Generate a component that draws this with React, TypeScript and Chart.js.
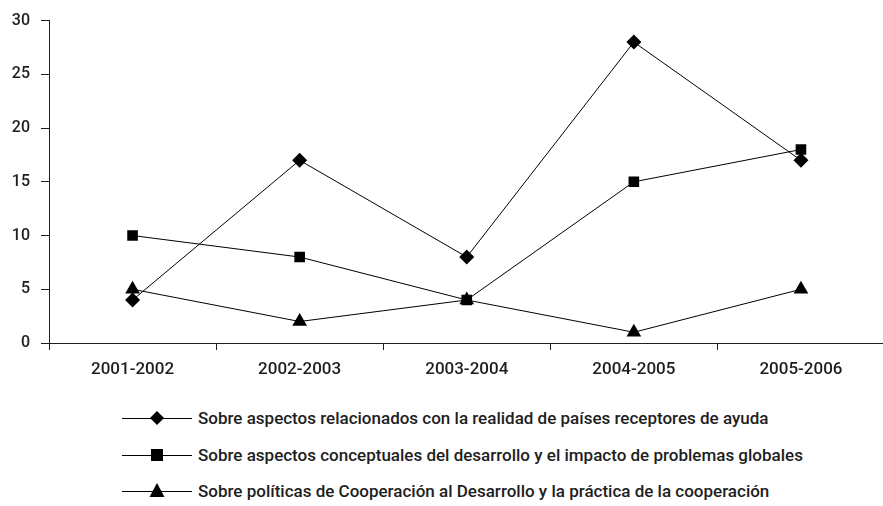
import React, { useEffect, useRef } from 'react';
import { Chart, registerables } from 'chart.js';

Chart.register(...registerables);

const categories = ['2001-2002', '2002-2003', '2003-2004', '2004-2005', '2005-2006'];
const seriesNames = [
  'Sobre aspectos relacionados con la realidad de países receptores de ayuda',
  'Sobre aspectos conceptuales del desarrollo y el impacto de problemas globales',
  'Sobre políticas de Cooperación al Desarrollo y la práctica de la cooperación',
];
const realidadPaises = [4, 17, 8, 28, 17];
const aspectosConceptuales = [10, 8, 4, 15, 18];
const politicasCooperacion = [5, 2, 4, 1, 5];
const yMin = 0;
const yMax = 30;
const yStep = 5;

const FONT = 'Roboto, "Liberation Sans", Arial, sans-serif';
const INK = '#1e1e1e';

const pointStyles = ['rectRot', 'rect', 'triangle'] as const;
const pointRadii = [7.5, 7.5, 8.5];

function LegendIcon({ kind }: { kind: number }) {
  const cx = 35;
  const cy = 10;
  let marker: React.ReactNode = null;
  if (kind === 0) {
    marker = <polygon points={`${cx},${cy - 7} ${cx + 7},${cy} ${cx},${cy + 7} ${cx - 7},${cy}`} fill="#000" />;
  } else if (kind === 1) {
    marker = <rect x={cx - 6} y={cy - 6} width={12} height={12} fill="#000" />;
  } else {
    marker = <polygon points={`${cx},${cy - 8} ${cx + 7.5},${cy + 6} ${cx - 7.5},${cy + 6}`} fill="#000" />;
  }
  return (
    <svg width={70} height={20} style={{ display: 'block', flex: 'none' }}>
      <line x1={0} y1={cy + 0.5} x2={70} y2={cy + 0.5} stroke="#000" strokeWidth={1} />
      {marker}
    </svg>
  );
}

export default function App() {
  const ref = useRef<HTMLCanvasElement>(null);

  useEffect(() => {
    const seriesData = [realidadPaises, aspectosConceptuales, politicasCooperacion];
    const chart = new Chart(ref.current!, {
      type: 'line',
      data: {
        labels: categories,
        datasets: seriesData.map((d, i) => ({
          label: seriesNames[i],
          data: d,
          borderColor: '#000',
          borderWidth: 1,
          backgroundColor: '#000',
          pointStyle: pointStyles[i],
          pointRadius: pointRadii[i],
          pointBackgroundColor: '#000',
          pointBorderColor: '#000',
          pointBorderWidth: 0,
          fill: false,
          tension: 0,
        })),
      },
      options: {
        responsive: false,
        animation: false,
        layout: { padding: { top: 19, right: 3, left: 0, bottom: 0 } },
        plugins: { legend: { display: false }, tooltip: { enabled: false } },
        scales: {
          x: {
            type: 'category',
            offset: true,
            grid: { offset: true, drawOnChartArea: false, drawTicks: true, tickLength: 7, color: INK },
            border: { color: INK, width: 1 },
            ticks: {
              font: { family: FONT, size: 17, weight: '500' },
              color: INK,
              padding: 10,
              maxRotation: 0,
              autoSkip: false,
            },
            afterFit: (s: any) => {
              s.height = 40;
            },
          },
          y: {
            min: yMin,
            max: yMax,
            grid: { drawOnChartArea: false, drawTicks: true, tickLength: 8, color: INK },
            border: { color: INK, width: 1 },
            ticks: {
              stepSize: yStep,
              font: { family: FONT, size: 16, weight: '500' },
              color: INK,
              padding: 11,
            },
            afterFit: (s: any) => {
              s.width = 49;
            },
          },
        },
      },
    });
    return () => chart.destroy();
  }, []);

  const rowCenters = [418, 455, 491];

  return (
    <div
      style={{
        position: 'fixed',
        left: 0,
        top: 0,
        width: 883,
        height: 506,
        overflow: 'hidden',
        background: '#fff',
      }}
    >
      <canvas ref={ref} width={893} height={383} style={{ position: 'absolute', left: 0, top: 0 }} />
      {seriesNames.map((name, i) => (
        <div
          key={name}
          style={{
            position: 'absolute',
            left: 122,
            top: rowCenters[i] - 10,
            height: 20,
            display: 'flex',
            alignItems: 'center',
            whiteSpace: 'nowrap',
          }}
        >
          <LegendIcon kind={i} />
          <span
            style={{
              marginLeft: 6,
              fontFamily: FONT,
              fontSize: 17,
              fontWeight: 500,
              color: INK,
              lineHeight: '20px',
            }}
          >
            {name}
          </span>
        </div>
      ))}
    </div>
  );
}
